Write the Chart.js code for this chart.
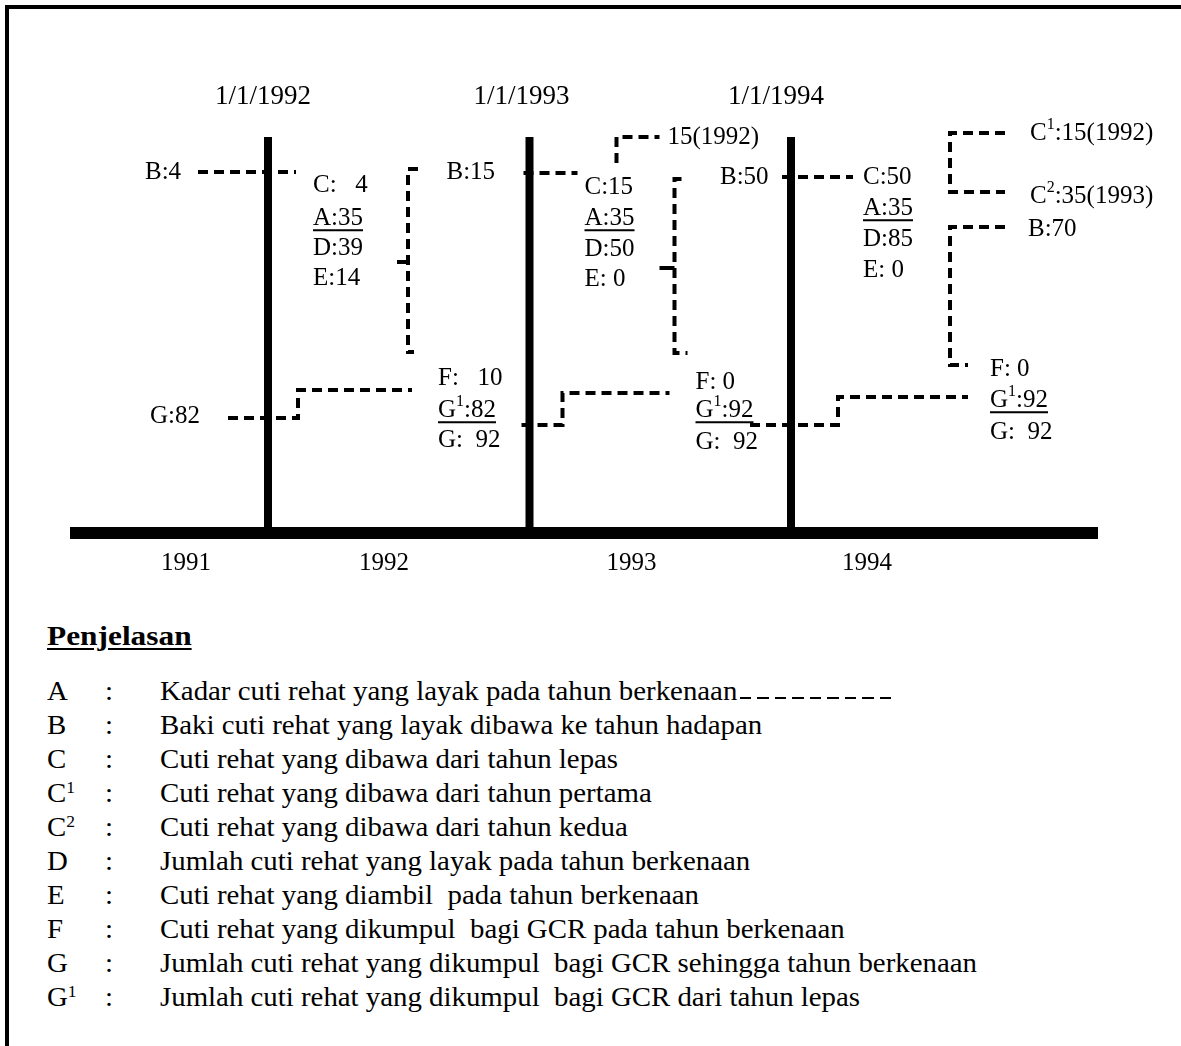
<!DOCTYPE html>
<html>
<head>
<meta charset="utf-8">
<script src="https://cdn.jsdelivr.net/npm/chart.js@4.4.0/dist/chart.umd.min.js"></script>
<style>
  html, body { margin: 0; padding: 0; background: #fff; }
  #page { position: relative; width: 1181px; height: 1046px; overflow: hidden;
          font-family: "Liberation Serif", "Times New Roman", serif; color: #000; }
  #frameTop  { position: absolute; left: 5px; top: 5px; width: 1176px; height: 4px; background: #000; }
  #frameLeft { position: absolute; left: 5px; top: 5px; width: 4px; height: 1041px; background: #000; }
  #wrap { position: absolute; left: 0; top: 0; width: 1181px; height: 600px; }
  .head { position: absolute; left: 47px; top: 618px; font-size: 28px; font-weight: bold;
          text-decoration: underline; text-underline-offset: 3px; line-height: 36px;
          transform: scaleX(1.12); transform-origin: left center; }
  .row  { position: absolute; left: 0; height: 34px; line-height: 34px; font-size: 28px; white-space: pre; }
  .row span.k, .row span.c, .row span.d { position: absolute; transform: scaleX(1.03); transform-origin: left center; }
  .row .k { left: 47px; }
  .row .c { left: 105px; }
  .row .d { left: 160px; }
  .row sup { font-size: 17px; vertical-align: 9px; line-height: 0; }
  .dash { display: inline-block; width: 152px; height: 2px; margin-left: 2px; vertical-align: 1px;
          background: repeating-linear-gradient(to right, #000 0 11px, transparent 11px 17px); }
</style>
</head>
<body>
<div id="page">
  <div id="wrap"><canvas id="timeline" width="1181" height="600"></canvas></div>
  <div id="frameTop"></div>
  <div id="frameLeft"></div>
  <div class="head">Penjelasan</div>
  <div id="legend"></div>
</div>
<script>
'use strict';

// ── Data ──────────────────────────────────────────────────────────────────
const YEARS     = ['1991', '1992', '1993', '1994'];
const CUT_DATES = ['1/1/1992', '1/1/1993', '1/1/1994'];
const CUT_YEARS = [1992, 1993, 1994];

const VAL_B  = [4, 15, 50];     // baki dibawa ke tahun hadapan
const VAL_C  = [4, 15, 50];     // dibawa dari tahun lepas
const VAL_A  = [35, 35, 35];    // kadar layak
const VAL_D  = [39, 50, 85];    // jumlah layak
const VAL_E  = [14, 0, 0];      // diambil
const VAL_F  = [10, 0, 0];      // dikumpul bagi GCR
const VAL_G1 = [82, 92, 92];    // GCR dari tahun lepas
const VAL_G  = [92, 92, 92];    // jumlah GCR

const G_OPENING = 82;
const B_CLOSING = 70;
const CARRY_1993 = { value: 15, from: 1992 };
const SPLIT_1994 = [{ key: 'C^1', value: 15, from: 1992 }, { key: 'C^2', value: 35, from: 1993 }];

const LEGEND_KEYS = ['A', 'B', 'C', 'C^1', 'C^2', 'D', 'E', 'F', 'G', 'G^1'];
const LEGEND_TEXT = [
  'Kadar cuti rehat yang layak pada tahun berkenaan',
  'Baki cuti rehat yang layak dibawa ke tahun hadapan',
  'Cuti rehat yang dibawa dari tahun lepas',
  'Cuti rehat yang dibawa dari tahun pertama',
  'Cuti rehat yang dibawa dari tahun kedua',
  'Jumlah cuti rehat yang layak pada tahun berkenaan',
  'Cuti rehat yang diambil  pada tahun berkenaan',
  'Cuti rehat yang dikumpul  bagi GCR pada tahun berkenaan',
  'Jumlah cuti rehat yang dikumpul  bagi GCR sehingga tahun berkenaan',
  'Jumlah cuti rehat yang dikumpul  bagi GCR dari tahun lepas',
];

// ── Layout (offsets in px from each cut-off bar, y in px from top) ─────────
const PX_YEAR = 261.5;
const X_MIN   = 1992 - 268 / PX_YEAR;
const X_MAX   = X_MIN + 1181 / PX_YEAR;
const BAR_TOP = 137, AXIS_Y = 533;
const at = (i, dx) => CUT_YEARS[i] + dx / PX_YEAR;

const LAYOUT = [
  { date: -5,  bLbl: [-123, 172], bLine: [-70, 28, 172], col: [45, [185, 218, 248, 278]],
    brace: [140, 169, 352, 262, 10, 6, -11], g: [-40, 418, 30, 390, 144], f: [170, [378, 410, 440]] },
  { date: -8,  bLbl: [-83, 172],  bLine: [-6, 48, 173],  col: [55, [187, 218, 249, 279]],
    brace: [145, 179, 353, 268, 7, 13, -15], g: [-8, 425, 33, 393, 140], f: [166, [382, 410, 442]] },
  { date: -15, bLbl: [-71, 177],  bLine: [-9, 62, 177],  col: [72, [177, 208, 239, 270]],
    brace: null, g: [-41, 425, 47, 397, 177], f: [199, [369, 400, 432]] },
];
const YEAR_LBL = [[0, -82], [0, 116], [1, 102], [2, 76]];

// ── Marks ─────────────────────────────────────────────────────────────────
const DASH = [10, 6];
const datasets = [];
const solid = (pts, w) => datasets.push({ data: pts, borderColor: '#000', borderWidth: w,
  showLine: true, pointRadius: 0, borderCapStyle: 'butt' });
const dashed = (pts) => datasets.push({ data: pts, borderColor: '#000', borderWidth: 4,
  borderDash: DASH, showLine: true, pointRadius: 0, borderCapStyle: 'butt', borderJoinStyle: 'miter' });

CUT_YEARS.forEach(y => solid([{ x: y, y: BAR_TOP }, { x: y, y: AXIS_Y }], 8));
solid([{ x: at(0, -198), y: AXIS_Y }, { x: at(2, 307), y: AXIS_Y }], 12);

LAYOUT.forEach((L, i) => {
  dashed([{ x: at(i, L.bLine[0]), y: L.bLine[2] }, { x: at(i, L.bLine[1]), y: L.bLine[2] }]);
  if (L.brace) {
    const [bx, t, b, m, th, bh, nub] = L.brace;
    dashed([{ x: at(i, bx + th), y: t }, { x: at(i, bx), y: t }, { x: at(i, bx), y: b }, { x: at(i, bx + bh), y: b }]);
    solid([{ x: at(i, bx), y: m }, { x: at(i, bx + nub), y: m }], 4);
  }
  const [gx0, gy0, gx1, gy1, gx2] = L.g;
  dashed([{ x: at(i, gx0), y: gy0 }, { x: at(i, gx1), y: gy0 }, { x: at(i, gx1), y: gy1 }, { x: at(i, gx2), y: gy1 }]);
});
// carry 15(1992) into 1993
dashed([{ x: at(1, 87), y: 163 }, { x: at(1, 87), y: BAR_TOP }, { x: at(1, 130), y: BAR_TOP }]);
// C split and closing B in 1994
dashed([{ x: at(2, 214), y: 133 }, { x: at(2, 159), y: 133 }, { x: at(2, 159), y: 192 }, { x: at(2, 214), y: 192 }]);
dashed([{ x: at(2, 214), y: 227 }, { x: at(2, 159), y: 227 }, { x: at(2, 159), y: 365 }, { x: at(2, 177), y: 365 }]);

// ── Texts ─────────────────────────────────────────────────────────────────
const texts = [];
const txt = (x, y, s, o = {}) => texts.push(Object.assign({ x, y, s, size: 25, align: 'left' }, o));

CUT_DATES.forEach((d, i) => txt(at(i, LAYOUT[i].date), 97, d, { size: 27, align: 'center' }));
YEARS.forEach((y, i) => txt(at(YEAR_LBL[i][0], YEAR_LBL[i][1]), 563, y, { size: 25, align: 'center' }));

LAYOUT.forEach((L, i) => {
  txt(at(i, L.bLbl[0]), L.bLbl[1], 'B:' + VAL_B[i]);
  const cx = at(i, L.col[0]), cy = L.col[1];
  txt(cx, cy[0], 'C:' + (VAL_C[i] < 10 ? '   ' : '') + VAL_C[i]);
  txt(cx, cy[1], 'A:' + VAL_A[i], { underline: true });
  txt(cx, cy[2], 'D:' + VAL_D[i]);
  txt(cx, cy[3], 'E:' + (VAL_E[i] < 10 ? ' ' : '') + VAL_E[i]);
  const fx = at(i, L.f[0]), fy = L.f[1];
  txt(fx, fy[0], 'F:' + (VAL_F[i] >= 10 ? '   ' : ' ') + VAL_F[i]);
  txt(fx, fy[1], 'G^1:' + VAL_G1[i], { underline: true });
  txt(fx, fy[2], 'G:  ' + VAL_G[i]);
});
txt(at(0, -118), 416, 'G:' + G_OPENING);
txt(at(1, 138), BAR_TOP, CARRY_1993.value + '(' + CARRY_1993.from + ')');
SPLIT_1994.forEach((c, k) => txt(at(2, 239), [133, 196][k], c.key + ':' + c.value + '(' + c.from + ')'));
txt(at(2, 237), 229, 'B:' + B_CLOSING);

// split "G^1:82" into normal / superscript runs
function runs(s) {
  const out = [];
  s.split(/(\^\d)/).forEach(p => {
    if (!p) return;
    if (p[0] === '^') out.push({ t: p.slice(1), sup: true });
    else out.push({ t: p, sup: false });
  });
  return out;
}

const textPlugin = {
  id: 'diagramText',
  afterDatasetsDraw(chart) {
    const { ctx, scales: { x, y } } = chart;
    ctx.save();
    ctx.fillStyle = '#000';
    ctx.textBaseline = 'middle';
    texts.forEach(t => {
      const parts = runs(t.s);
      const supSize = Math.round(t.size * 0.62);
      let w = 0;
      parts.forEach(p => {
        ctx.font = (p.sup ? supSize : t.size) + 'px "Liberation Serif", serif';
        p.w = ctx.measureText(p.t).width;
        w += p.w;
      });
      let px = x.getPixelForValue(t.x);
      const py = y.getPixelForValue(t.y);
      if (t.align === 'center') px -= w / 2;
      ctx.textAlign = 'left';
      const x0 = px;
      parts.forEach(p => {
        ctx.font = (p.sup ? supSize : t.size) + 'px "Liberation Serif", serif';
        ctx.fillText(p.t, px, p.sup ? py - t.size * 0.32 : py);
        px += p.w;
      });
      if (t.underline) ctx.fillRect(x0, py + t.size * 0.45, w, 2);
    });
    ctx.restore();
  },
};

new Chart(document.getElementById('timeline'), {
  type: 'scatter',
  data: { datasets },
  options: {
    responsive: false,
    animation: false,
    events: [],
    layout: { padding: 0 },
    plugins: { legend: { display: false }, tooltip: { enabled: false } },
    scales: {
      x: { type: 'linear', display: false, min: X_MIN, max: X_MAX },
      y: { type: 'linear', display: false, min: 0, max: 600, reverse: true },
    },
  },
  plugins: [textPlugin],
});

// ── Legend (Penjelasan) ───────────────────────────────────────────────────
const ROW0 = 691, ROW_STEP = 34;
const legend = document.getElementById('legend');
const keyHtml = k => k.replace(/\^(\d)/, '<sup>$1</sup>');
LEGEND_KEYS.forEach((k, i) => {
  const row = document.createElement('div');
  row.className = 'row';
  row.style.top = (ROW0 + i * ROW_STEP - 17) + 'px';
  row.innerHTML = '<span class="k">' + keyHtml(k) + '</span><span class="c">:</span><span class="d">' +
    LEGEND_TEXT[i] + (i === 0 ? '<span class="dash"></span>' : '') + '</span>';
  legend.appendChild(row);
});
</script>
</body>
</html>
